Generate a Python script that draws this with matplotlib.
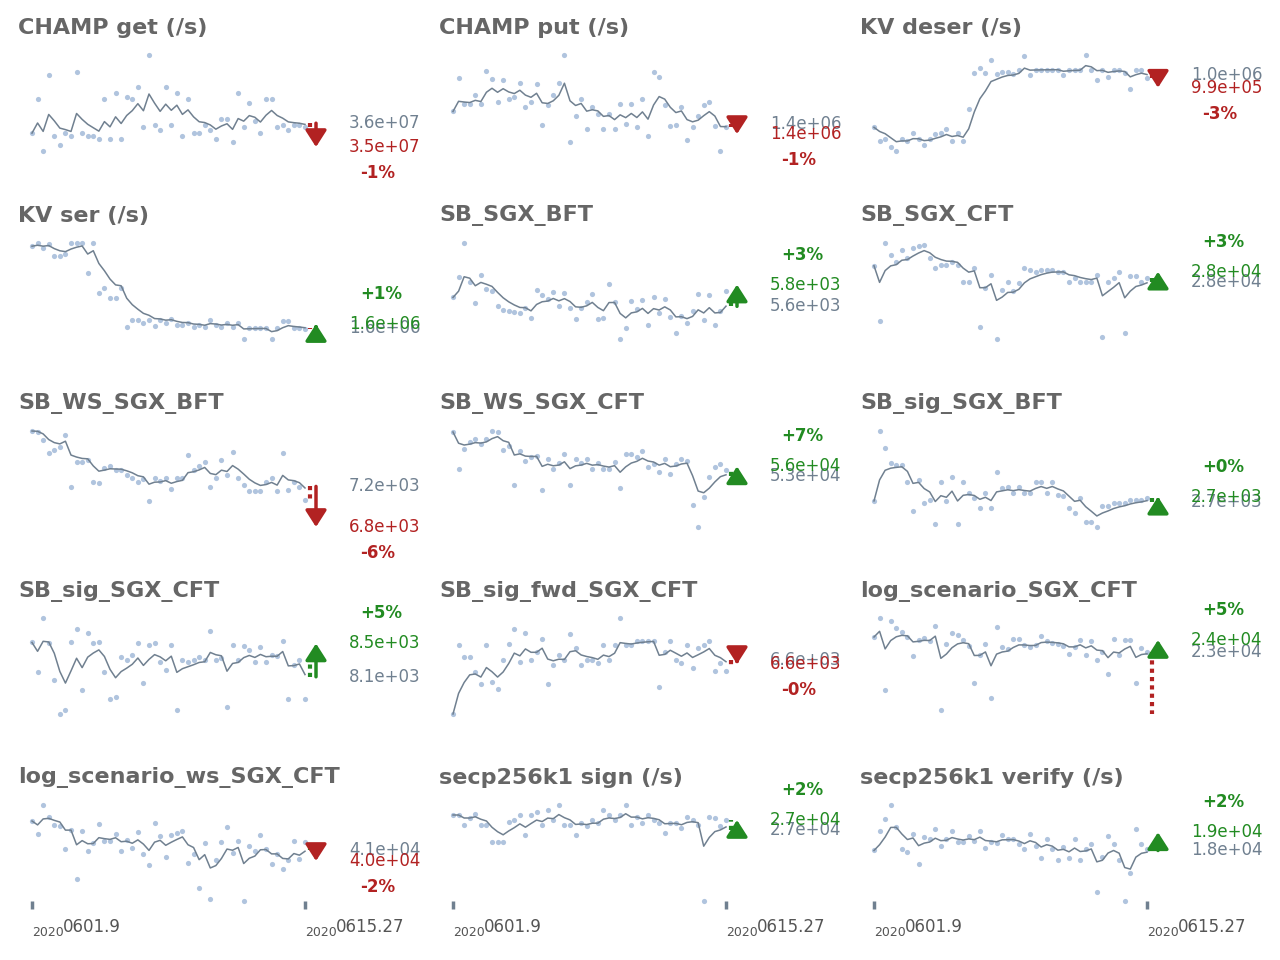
import numpy as np
import pandas as pd
import matplotlib
matplotlib.use("Agg")
import matplotlib.pyplot as plt
from matplotlib.transforms import blended_transform_factory

# benchmark names (one panel each)
names = ["CHAMP get (/s)", "CHAMP put (/s)", "KV deser (/s)",
         "KV ser (/s)", "SB_SGX_BFT", "SB_SGX_CFT",
         "SB_WS_SGX_BFT", "SB_WS_SGX_CFT", "SB_sig_SGX_BFT",
         "SB_sig_SGX_CFT", "SB_sig_fwd_SGX_CFT", "log_scenario_SGX_CFT",
         "log_scenario_ws_SGX_CFT", "secp256k1 sign (/s)", "secp256k1 verify (/s)"]

# history of runs per benchmark
champ_get = np.array([
    3.565, 3.616, 3.538, 3.653, 3.561, 3.547, 3.565, 3.561, 3.658, 3.565,
    3.561, 3.561, 3.556, 3.616, 3.556, 3.625, 3.556, 3.620, 3.616, 3.634,
    3.574, 3.683, 3.578, 3.569, 3.634, 3.578, 3.625, 3.561, 3.616, 3.565,
    3.565, 3.578, 3.569, 3.556, 3.587, 3.587, 3.551, 3.625, 3.574, 3.611,
    3.583, 3.565, 3.616, 3.616, 3.574, 3.578, 3.569, 3.578, 3.578, 3.574]) * 1e7
champ_put = np.array([
    1.438, 1.486, 1.449, 1.449, 1.461, 1.448, 1.496, 1.484, 1.452, 1.482,
    1.455, 1.458, 1.479, 1.445, 1.451, 1.477, 1.419, 1.447, 1.462, 1.479,
    1.518, 1.395, 1.431, 1.456, 1.413, 1.445, 1.435, 1.413, 1.435, 1.413,
    1.449, 1.420, 1.449, 1.416, 1.456, 1.403, 1.494, 1.487, 1.447, 1.417,
    1.419, 1.444, 1.398, 1.416, 1.431, 1.447, 1.451, 1.417, 1.382, 1.416]) * 1e6
kv_deser = np.array([
    0.898, 0.866, 0.871, 0.852, 0.843, 0.871, 0.866, 0.884, 0.871, 0.857,
    0.871, 0.882, 0.884, 0.894, 0.866, 0.884, 0.866, 0.940, 1.025, 1.036,
    1.025, 1.055, 1.022, 1.027, 1.027, 1.022, 1.032, 1.064, 1.020, 1.032,
    1.032, 1.032, 1.032, 1.032, 1.020, 1.032, 1.032, 1.032, 1.066, 1.032,
    1.009, 1.032, 1.015, 1.032, 1.032, 1.025, 0.986, 1.032, 1.032, 1.013]) * 1e6
kv_ser = np.array([
    1.908, 1.920, 1.900, 1.916, 1.872, 1.872, 1.880, 1.920, 1.920, 1.920,
    1.808, 1.920, 1.732, 1.752, 1.712, 1.712, 1.752, 1.604, 1.632, 1.632,
    1.620, 1.632, 1.608, 1.632, 1.620, 1.636, 1.612, 1.612, 1.620, 1.604,
    1.612, 1.604, 1.632, 1.612, 1.604, 1.620, 1.604, 1.620, 1.560, 1.600,
    1.600, 1.600, 1.600, 1.560, 1.600, 1.628, 1.628, 1.600, 1.600, 1.596]) * 1e6
sb_sgx_bft = np.array([
    5702, 5870, 6142, 5830, 5654, 5886, 5774, 5750, 5630, 5598,
    5590, 5582, 5574, 5614, 5534, 5766, 5718, 5686, 5742, 5630,
    5734, 5614, 5526, 5614, 5662, 5726, 5526, 5534, 5814, 5662,
    5366, 5454, 5670, 5606, 5678, 5478, 5702, 5574, 5686, 5542,
    5414, 5550, 5494, 5590, 5726, 5518, 5718, 5478, 5590, 5750])
sb_sgx_cft = np.array([
    28880, 24400, 30720, 29760, 29200, 30160, 29520, 30320, 30480, 30560,
    29520, 28720, 28960, 28960, 29200, 28960, 27600, 27600, 28720, 23920,
    27120, 28160, 22960, 26960, 27600, 26800, 27520, 28720, 28560, 28400,
    28560, 28560, 28560, 28400, 28400, 27600, 27920, 27600, 27600, 27600,
    28160, 23120, 27600, 27920, 28400, 23440, 28080, 28080, 27600, 27920])
sb_ws_sgx_bft = np.array([
    7760, 7750, 7670, 7540, 7570, 7600, 7720, 7190, 7450, 7450,
    7470, 7240, 7230, 7390, 7410, 7370, 7370, 7320, 7290, 7240,
    7270, 7050, 7290, 7250, 7290, 7170, 7290, 7290, 7520, 7370,
    7410, 7450, 7190, 7290, 7470, 7320, 7550, 7290, 7210, 7150,
    7150, 7150, 7240, 7290, 7150, 7540, 7160, 7240, 7190, 7060])
sb_ws_sgx_cft = np.array([
    68980, 55290, 62690, 65280, 66390, 64540, 66390, 69350, 68980, 62320,
    63800, 49740, 61950, 58250, 59730, 60100, 47890, 58990, 55290, 57510,
    60840, 49740, 58990, 57510, 58990, 55290, 57510, 55290, 55290, 57880,
    48630, 60840, 60840, 59730, 61950, 56030, 57140, 54180, 58990, 53440,
    57140, 58990, 58250, 42340, 34200, 45300, 52330, 56030, 57140, 54920])
sb_sig_sgx_bft = np.array([
    2702, 2836, 2804, 2774, 2770, 2770, 2738, 2682, 2742, 2698,
    2704, 2658, 2738, 2702, 2748, 2658, 2738, 2718, 2708, 2688,
    2718, 2688, 2758, 2726, 2728, 2718, 2728, 2718, 2718, 2738,
    2738, 2718, 2738, 2714, 2712, 2688, 2678, 2708, 2662, 2662,
    2652, 2692, 2692, 2698, 2698, 2698, 2704, 2704, 2704, 2708])
sb_sig_sgx_cft = np.array([
    8520, 8160, 8820, 8508, 8064, 7644, 7692, 8520, 8688, 7944,
    8640, 8508, 8520, 8160, 7824, 7848, 8340, 8304, 8364, 8508,
    8028, 8484, 8508, 8280, 8184, 8484, 7692, 8304, 8280, 8304,
    8340, 8304, 8664, 8304, 8328, 7728, 8484, 8304, 8472, 8424,
    8280, 8460, 8280, 8364, 8352, 8544, 7824, 8244, 8304, 7824])
sb_sig_fwd = np.array([
    6482, 6658, 6628, 6628, 6590, 6558, 6658, 6565, 6545, 6620,
    6662, 6700, 6615, 6690, 6620, 6640, 6675, 6558, 6608, 6632,
    6620, 6688, 6650, 6608, 6620, 6620, 6612, 6658, 6620, 6658,
    6728, 6658, 6658, 6670, 6670, 6670, 6670, 6550, 6640, 6670,
    6620, 6612, 6658, 6600, 6650, 6658, 6670, 6592, 6612, 6592])
log_scenario = np.array([
    24250, 25960, 19480, 25690, 25060, 24700, 24250, 22540, 23980, 24160,
    23890, 25240, 17680, 23620, 24610, 24430, 23980, 23440, 20110, 22630,
    23620, 18760, 25150, 23350, 23170, 24070, 24070, 23530, 23350, 23530,
    24340, 23890, 23710, 23620, 23440, 22720, 23350, 23980, 22630, 23890,
    22180, 22900, 20920, 24070, 22630, 23980, 23980, 20110, 23260, 22900])
log_scenario_ws = np.array([
    42730, 41820, 43850, 43010, 42450, 42380, 40770, 42100, 38670, 42030,
    40630, 41190, 42520, 41330, 41330, 41820, 40630, 41400, 40840, 41960,
    40420, 39650, 42590, 41680, 40210, 41750, 41890, 42030, 39790, 40420,
    38040, 41190, 37270, 40000, 41260, 42310, 40490, 41330, 37130, 40980,
    40630, 41750, 40770, 39720, 40420, 39370, 40000, 41330, 40070, 41260])
secp_sign = np.array([
    27450, 27450, 26950, 27300, 27500, 26950, 26950, 26100, 26100, 26100,
    27100, 27200, 27450, 26450, 27450, 27600, 26950, 27700, 27200, 27950,
    26950, 26950, 26450, 27050, 26900, 27200, 27050, 27700, 27450, 27200,
    27450, 27950, 26950, 27350, 27050, 27450, 27200, 27050, 26550, 27050,
    27050, 26800, 27350, 27200, 26950, 23150, 27350, 27300, 26900, 27200])
secp_verify = np.array([
    18400, 18856, 19144, 19480, 18952, 18424, 18352, 18784, 18088, 18712,
    18664, 18904, 18496, 18664, 18856, 18592, 18592, 18736, 18616, 18856,
    18448, 18592, 18568, 18760, 18664, 18664, 18544, 18424, 18784, 18496,
    18232, 18664, 18424, 18184, 18472, 18232, 18664, 18184, 18424, 18544,
    17416, 18256, 18736, 18544, 18184, 17200, 17872, 18904, 18544, 18424])

series = [champ_get, champ_put, kv_deser, kv_ser, sb_sgx_bft, sb_sgx_cft,
          sb_ws_sgx_bft, sb_ws_sgx_cft, sb_sig_sgx_bft, sb_sig_sgx_cft,
          sb_sig_fwd, log_scenario, log_scenario_ws, secp_sign, secp_verify]

# reference (old) value, new value and latest run value per benchmark
old_vals = [3.580e7, 1.420e6, 1.020e6, 1.600e6, 5630, 27600, 7200, 52700,
            2700, 8100, 6620, 22900, 40700, 26700, 18400]
new_vals = [3.544e7, 1.406e6, 0.990e6, 1.616e6, 5806, 28400, 6790, 56400,
            2710, 8508, 6610, 23980, 39930, 27200, 18832]
latest_vals = [3.574e7, 1.416e6, 1.013e6, 1.596e6, 5662, 27920, 7050, 54920,
               2708, 8330, 6600, 17320, 41260, 27200, 18424]

tick_dates = [("2020", "0601.9"), ("2020", "0615.27")]

RED = "#b22222"
GREEN = "#228b22"
GREY = "#708090"
DOT = "#b0c4de"
TITLE = "#666666"

W, H = 1280, 960
fig = plt.figure(figsize=(12.8, 9.6), dpi=100)

col_left = [32, 453, 874]
row_top = [55, 243, 431, 618, 805]
ax_w, ax_h = 273, 96

for i, name in enumerate(names):
    r, c = divmod(i, 3)
    ax = fig.add_axes([col_left[c] / W, 1 - (row_top[r] + ax_h) / H, ax_w / W, ax_h / H])
    vals = series[i]
    n = len(vals)
    x = np.arange(n)
    trend = pd.Series(vals).ewm(alpha=0.3, adjust=False).mean()

    ax.scatter(x, vals, s=14, color=DOT, linewidths=0, clip_on=False, zorder=1)
    ax.plot(x, trend, color=GREY, lw=1.1, zorder=2, clip_on=False)

    old, new, last = old_vals[i], new_vals[i], latest_vals[i]
    lo = min(vals.min(), new, last)
    hi = max(vals.max(), new, last)
    ax.set_xlim(0, n - 1)
    ax.set_ylim(lo, hi)

    tr = blended_transform_factory(ax.transAxes, ax.transData)
    up = new >= old
    col = GREEN if up else RED

    # dotted move to latest run
    dcol = GREEN if last >= old else RED
    ax.plot([278 / ax_w] * 2, [old, last], transform=tr, ls=(0, (1, 1)), lw=3,
            color=dcol, clip_on=False, zorder=3)
    # arrow old -> new
    ax.annotate("", xy=(284 / ax_w, new), xycoords=tr, xytext=(284 / ax_w, old),
                textcoords=tr, annotation_clip=False,
                arrowprops=dict(arrowstyle="-|>,head_length=0.5,head_width=0.32",
                                mutation_scale=20, lw=2.5, color=col,
                                shrinkA=0, shrinkB=0), zorder=4)

    ax.text(317 / ax_w, old, "%.1e" % old, transform=tr, color=GREY,
            fontsize=12, ha="left", va="center", clip_on=False)
    ax.text(317 / ax_w, new, "%.1e" % new, transform=tr, color=col,
            fontsize=12, ha="left", va="center", clip_on=False)
    pct = (new / old - 1) * 100
    ax.annotate("%+.0f%%" % pct, xy=(328 / ax_w, new), xycoords=tr,
                xytext=(0, 30 if up else -26), textcoords="offset pixels",
                color=col, fontsize=12, weight="bold", ha="left", va="center",
                annotation_clip=False)

    fig.text((col_left[c] - 14) / W, 1 - (row_top[r] - 27) / H, name,
             fontsize=16, weight="bold", color=TITLE, ha="left", va="center")

    for s in ax.spines.values():
        s.set_visible(False)
    ax.set_yticks([])
    if r < 4:
        ax.set_xticks([])
    else:
        ax.set_xticks([0, n - 1])
        ax.set_xticklabels([])
        ax.tick_params(axis="x", length=6, width=2.5, color=GREY, direction="out")
        xt = blended_transform_factory(ax.transData, ax.transAxes)
        for xi, (yr, md) in zip([0, n - 1], tick_dates):
            ax.annotate(yr, xy=(xi, 0), xycoords=xt, xytext=(0, -35),
                        textcoords="offset pixels", fontsize=9, color="#555555",
                        ha="left", va="baseline", annotation_clip=False)
            ax.annotate(md, xy=(xi, 0), xycoords=xt, xytext=(31, -31),
                        textcoords="offset pixels", fontsize=12, color="#555555",
                        ha="left", va="baseline", annotation_clip=False)

fig.savefig("out.png", dpi=100)
